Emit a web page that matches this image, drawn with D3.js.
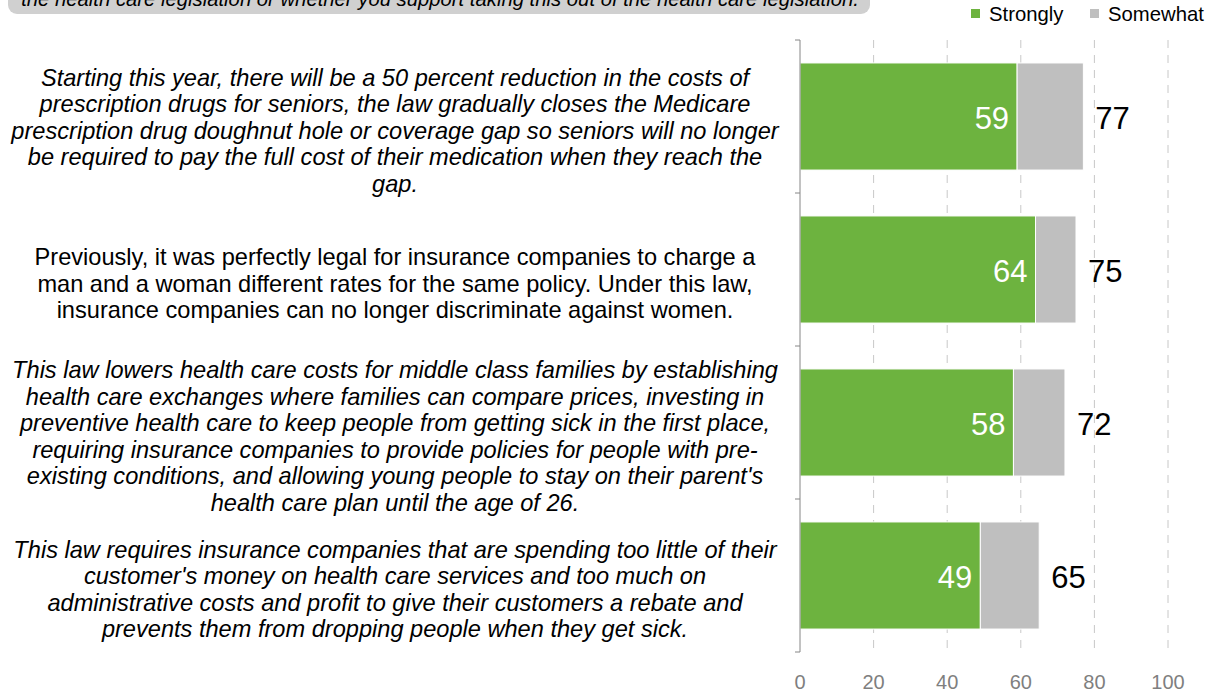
<!DOCTYPE html>
<html>
<head>
<meta charset="utf-8">
<script src="https://cdn.jsdelivr.net/npm/d3@7"></script>
<style>
  body { margin: 0; background: #fff; }
  text { font-family: "Liberation Sans", Arial, sans-serif; }
</style>
</head>
<body>
<svg id="viz" width="1217" height="696"></svg>
<script>
// Support for health care law provisions

var headerText = "the health care legislation or whether you support taking this out of the health care legislation.";

var categories = [
    ["Starting this year, there will be a 50 percent reduction in the costs of",
     "prescription drugs for seniors, the law gradually closes the Medicare",
     "prescription drug doughnut hole or coverage gap so seniors will no longer",
     "be required to pay the full cost of their medication when they reach the",
     "gap."],
    ["Previously, it was perfectly legal for insurance companies to charge a",
     "man and a woman different rates for the same policy.  Under this law,",
     "insurance companies can no longer discriminate against women."],
    ["This law lowers health care costs for middle class families by establishing",
     "health care exchanges where families can compare prices, investing in",
     "preventive health care to keep people from getting sick in the first place,",
     "requiring insurance companies to provide policies for people with pre-",
     "existing conditions, and allowing young people to stay on their parent's",
     "health care plan until the age of 26."],
    ["This law requires insurance companies that are spending too little of their",
     "customer's money on health care services and too much on",
     "administrative costs and profit to give their customers a rebate and",
     "prevents them from dropping people when they get sick."]
];
var italicLabel = [true, false, true, true];

var seriesNames = ["Strongly", "Somewhat"];
var strongly = [59, 64, 58, 49];
var somewhat = [18, 11, 14, 16];
var totals = [77, 75, 72, 65];
var xTicks = [0, 20, 40, 60, 80, 100];

var colors = ["#6db33f", "#bfbfbf"];

var svg = d3.select("#viz");

var x = d3.scaleLinear().domain([0, 100]).range([800, 1168]);
var y = d3.scaleBand()
    .domain(d3.range(categories.length))
    .range([40, 652])
    .paddingInner(0.3)
    .paddingOuter(0.15);

// header banner (cut off at top)
svg.append("rect")
    .attr("x", 8).attr("y", -20)
    .attr("width", 862).attr("height", 34)
    .attr("rx", 9)
    .attr("fill", "#d0d0d0");
svg.append("text")
    .attr("x", 440).attr("y", 6)
    .attr("text-anchor", "middle")
    .attr("font-size", 20.3)
    .attr("font-style", "italic")
    .text(headerText);

// gridlines
svg.append("g")
    .selectAll("line")
    .data(xTicks.filter(d => d > 0))
    .enter()
    .append("line")
    .attr("x1", d => x(d)).attr("x2", d => x(d))
    .attr("y1", 40).attr("y2", 655)
    .attr("stroke", "#c8c8c8")
    .attr("stroke-dasharray", "8,7");

// stacked bars
var stack = d3.stack().keys([0, 1])(strongly.map((s, i) => [s, somewhat[i]]));
svg.append("g")
    .selectAll("g")
    .data(stack)
    .enter()
    .append("g")
    .attr("fill", (d, i) => colors[i])
    .selectAll("rect")
    .data(d => d)
    .enter()
    .append("rect")
    .attr("x", d => x(d[0]))
    .attr("width", d => x(d[1]) - x(d[0]))
    .attr("y", (d, i) => y(i))
    .attr("height", y.bandwidth())
    .attr("stroke", "#fff")
    .attr("stroke-width", 1);

// y axis
var yAxis = svg.append("g");
yAxis.append("line")
    .attr("x1", 800).attr("x2", 800)
    .attr("y1", 40).attr("y2", 652)
    .attr("stroke", "#868686");
yAxis.selectAll("line.tick")
    .data(d3.range(categories.length + 1))
    .enter()
    .append("line")
    .attr("class", "tick")
    .attr("x1", 795).attr("x2", 800)
    .attr("y1", i => 40 + i * y.step())
    .attr("y2", i => 40 + i * y.step())
    .attr("stroke", "#868686");

// x tick labels
svg.append("g")
    .selectAll("text")
    .data(xTicks)
    .enter()
    .append("text")
    .attr("x", d => x(d))
    .attr("y", 689)
    .attr("text-anchor", "middle")
    .attr("font-size", 20)
    .attr("fill", "#7f7f7f")
    .text(d => d);

// value labels
svg.append("g")
    .selectAll("text")
    .data(strongly)
    .enter()
    .append("text")
    .attr("x", d => x(d) - 8)
    .attr("y", (d, i) => y(i) + y.bandwidth() / 2 + 12)
    .attr("text-anchor", "end")
    .attr("font-size", 31)
    .attr("fill", "#fff")
    .text(d => d);

svg.append("g")
    .selectAll("text")
    .data(totals)
    .enter()
    .append("text")
    .attr("x", d => x(d) + 12)
    .attr("y", (d, i) => y(i) + y.bandwidth() / 2 + 12)
    .attr("font-size", 31)
    .attr("fill", "#000")
    .text(d => d);

// category labels
var lineH = 26.5;
var labels = svg.append("g")
    .selectAll("text")
    .data(categories)
    .enter()
    .append("text")
    .attr("text-anchor", "middle")
    .attr("font-size", 23.6)
    .attr("font-style", (d, i) => italicLabel[i] ? "italic" : "normal")
    .attr("fill", "#000");
labels.each(function (lines, i) {
    var cy = y(i) + y.bandwidth() / 2 + 14;
    var top = cy - (lines.length - 1) * lineH / 2 + 8;
    d3.select(this).selectAll("tspan")
        .data(lines)
        .enter()
        .append("tspan")
        .attr("x", 395)
        .attr("y", (l, j) => top + j * lineH)
        .text(l => l);
});

// legend
var legend = svg.append("g");
var legendX = [971, 1090];
seriesNames.forEach((name, i) => {
    legend.append("rect")
        .attr("x", legendX[i]).attr("y", 9)
        .attr("width", 9).attr("height", 9)
        .attr("fill", colors[i]);
    legend.append("text")
        .attr("x", legendX[i] + 18).attr("y", 21)
        .attr("font-size", 20.3)
        .text(name);
});
</script>
</body>
</html>
